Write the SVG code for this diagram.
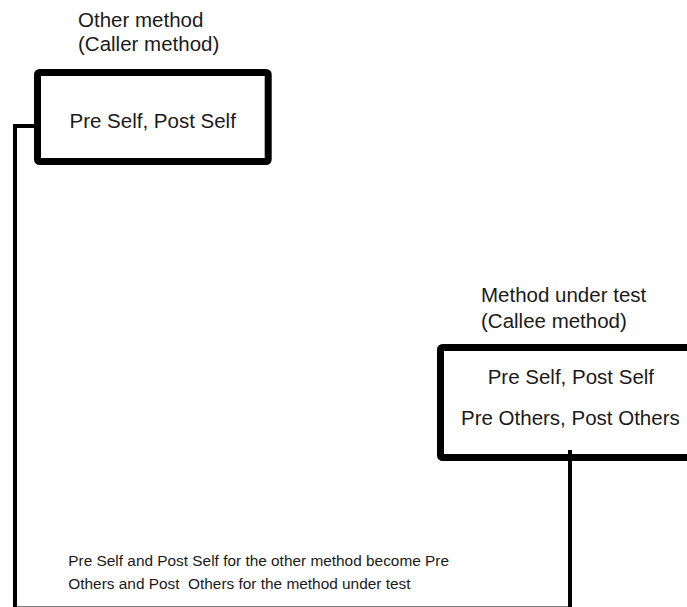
<svg xmlns="http://www.w3.org/2000/svg" width="687" height="607" viewBox="0 0 687 607">
  <style>
    .box { fill: #ffffff; stroke: #000000; stroke-width: 7; stroke-linejoin: round; }
    .wire { fill: none; stroke: #000000; stroke-width: 4; stroke-linejoin: miter; }
    .lbl { font-family: "Liberation Sans", Arial, sans-serif; font-size: 20.5px; fill: #1a1a1a; }
    .note { font-family: "Liberation Sans", Arial, sans-serif; font-size: 15.4px; fill: #1a1a1a; white-space: pre; }
  </style>

  <!-- Caller method node -->
  <g id="caller">
    <text class="lbl" x="78" y="27">Other method</text>
    <text class="lbl" x="78" y="51">(Caller method)</text>
    <rect class="box" x="37.5" y="72.5" width="230.7" height="89" rx="2"/>
    <text class="lbl" x="69.5" y="127.5">Pre Self, Post Self</text>
  </g>

  <!-- Callee method node (method under test) -->
  <g id="callee">
    <text class="lbl" x="481" y="302">Method under test</text>
    <text class="lbl" x="481" y="327.5">(Callee method)</text>
    <rect class="box" x="440.5" y="347.5" width="270" height="110" rx="2"/>
    <text class="lbl" x="487.7" y="383.5">Pre Self, Post Self</text>
    <text class="lbl" x="461" y="425">Pre Others, Post Others</text>
  </g>

  <!-- Connector linking the two methods -->
  <g id="connectors">
    <path class="wire" d="M 36,126 H 15 V 608.5 H 570 V 450"/>
  </g>

  <!-- Explanatory note -->
  <g id="note">
    <text class="note" x="68.3" y="565.7">Pre Self and Post Self for the other method become Pre</text>
    <text class="note" x="68.3" y="589">Others and Post  Others for the method under test</text>
  </g>
</svg>
